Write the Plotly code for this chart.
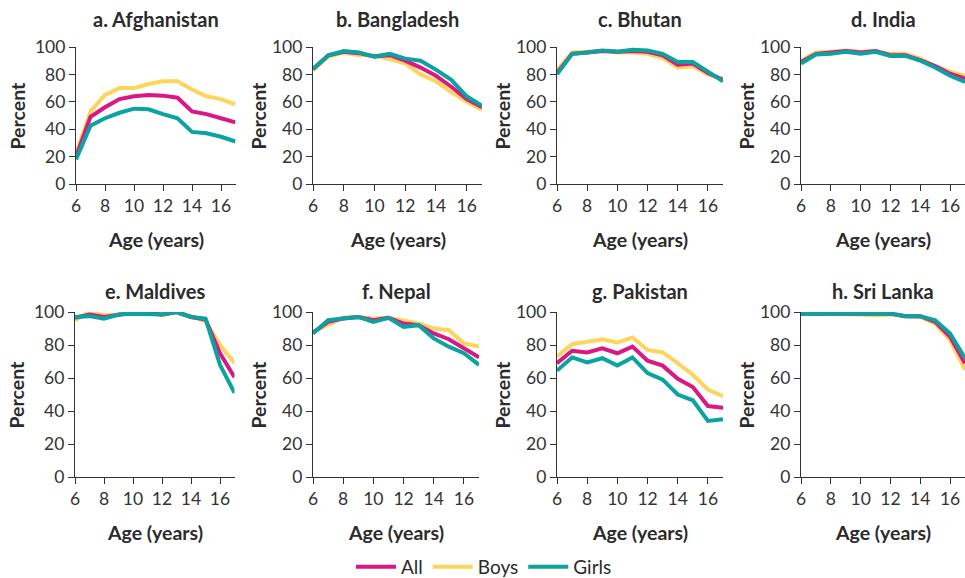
import plotly.graph_objects as go

ages = [6, 7, 8, 9, 10, 11, 12, 13, 14, 15, 16, 17]
countries = ["a. Afghanistan", "b. Bangladesh", "c. Bhutan", "d. India",
             "e. Maldives", "f. Nepal", "g. Pakistan", "h. Sri Lanka"]

afg_all = [20, 49, 56, 62, 64, 65, 64.5, 63, 53, 51, 48, 45]
afg_boys = [22, 53, 65, 70, 70, 73, 75, 75, 69, 64, 62, 58]
afg_girls = [18, 42.5, 48, 52, 55, 54.5, 51, 48, 38, 37, 34.5, 31]

bgd_all = [84, 94, 96.5, 95.5, 93, 94, 90, 85, 79, 71, 62, 56]
bgd_boys = [83, 93, 96, 94, 94, 91, 88, 80, 75, 67, 60, 54]
bgd_girls = [84, 94, 97, 96, 93, 95, 91.5, 90, 83.5, 76, 64, 57]

btn_all = [81, 95, 96, 97, 96.5, 97, 96.5, 94, 87, 88, 81, 76]
btn_boys = [83, 96, 96.5, 97, 96, 96, 95, 92, 85, 86, 80, 77]
btn_girls = [80, 95, 96, 97.5, 96.5, 98, 97.5, 95, 89, 89, 82, 75]

ind_all = [89, 95, 96, 97, 96, 97, 94, 94, 90.5, 86, 80.5, 77]
ind_boys = [90, 96, 96.5, 97.5, 96.5, 97, 95, 95, 91.5, 86, 82, 79]
ind_girls = [88, 94.5, 95, 96.5, 95, 96.5, 93.5, 93.5, 90, 85, 79, 74.5]

mdv_all = [96.5, 98.5, 97, 98.5, 99.5, 99.5, 98.5, 100, 97, 95.5, 75, 60.5]
mdv_boys = [95, 100, 98, 98.5, 100, 100, 98, 100, 97.5, 94.5, 80, 69]
mdv_girls = [97, 97.5, 96, 98.5, 99, 99, 98.5, 100, 97, 96, 68, 51]

npl_all = [87.5, 94, 96, 97, 95, 96.5, 93, 92, 87, 83.5, 78, 72.5]
npl_boys = [88, 92, 96.5, 97, 96, 96.5, 94.5, 93, 90, 89, 81, 79]
npl_girls = [87, 95, 96, 97, 94, 96.5, 91, 92, 84, 79, 75, 68]

pak_all = [69, 76.5, 75.5, 78, 75, 79, 70.5, 67.5, 59.5, 54.5, 43, 42]
pak_boys = [73, 80.5, 82, 83.5, 81.5, 84.5, 77, 75.5, 69, 62, 53, 49]
pak_girls = [64.5, 72.5, 69.5, 72, 67.5, 72.5, 63, 59, 50, 46.5, 34, 35]

lka_all = [99, 99, 98.5, 98.5, 98.5, 98.5, 99, 97.5, 97.5, 94, 85, 69]
lka_boys = [99, 99, 99, 98.5, 98.5, 98, 98.5, 97.5, 97, 93, 83, 65]
lka_girls = [99, 99, 98.5, 98.5, 98.5, 98.5, 99, 97.5, 97.5, 95, 87, 72]

all_series = [afg_all, bgd_all, btn_all, ind_all, mdv_all, npl_all, pak_all, lka_all]
boys_series = [afg_boys, bgd_boys, btn_boys, ind_boys, mdv_boys, npl_boys, pak_boys, lka_boys]
girls_series = [afg_girls, bgd_girls, btn_girls, ind_girls, mdv_girls, npl_girls, pak_girls, lka_girls]

x_ticks = [6, 8, 10, 12, 14, 16]
y_ticks = [0, 20, 40, 60, 80, 100]

C_ALL = "#DA1884"
C_BOYS = "#FDD55C"
C_GIRLS = "#0BA2A2"

W, H = 965, 578
FONT = "Lato"
TXT = "#2b2b2b"

# pixel layout of each panel: (x_left, x_right, y_top, y_bottom)
panels_px = [
    (76, 235.5, 47, 184), (313, 482, 47, 184), (557, 723, 47, 184), (801, 965, 47, 184),
    (75, 234.5, 312, 477), (313, 479, 312, 477), (557, 723, 312, 477), (801, 965, 312, 477),
]

fig = go.Figure()
layout = dict(
    width=W, height=H,
    margin=dict(l=0, r=0, t=0, b=0, autoexpand=False),
    paper_bgcolor="white", plot_bgcolor="white",
    font=dict(family=FONT, color=TXT),
    showlegend=True,
    legend=dict(orientation="h", x=484 / W, xanchor="center", y=1 - 567 / H, yanchor="middle",
                font=dict(size=19, family=FONT, color=TXT), itemwidth=40,
                traceorder="normal"),
)
annotations = []

for i, (name, (xl, xr, yt, yb)) in enumerate(zip(countries, panels_px)):
    k = "" if i == 0 else str(i + 1)
    xa, ya = "x" + k, "y" + k
    layout["xaxis" + k] = dict(
        domain=[xl / W, xr / W], anchor=ya, range=[6, 17],
        tickvals=x_ticks, ticks="outside", ticklen=6, tickwidth=1.3, tickcolor="#333",
        showline=True, linecolor="#333", linewidth=1.3, showgrid=False, zeroline=False,
        tickfont=dict(size=17.5, family=FONT, color="#333"),
    )
    layout["yaxis" + k] = dict(
        domain=[1 - yb / H, 1 - yt / H], anchor=xa, range=[0, 100],
        tickvals=y_ticks, ticks="outside", ticklen=6, tickwidth=1.3, tickcolor="#333",
        showline=True, linecolor="#333", linewidth=1.3, showgrid=False, zeroline=False,
        tickfont=dict(size=17.5, family=FONT, color="#333"),
    )
    for label, series, color, rank in [("Boys", boys_series, C_BOYS, 2),
                                       ("All", all_series, C_ALL, 1),
                                       ("Girls", girls_series, C_GIRLS, 3)]:
        fig.add_trace(go.Scatter(
            x=ages, y=series[i], mode="lines", name=label,
            line=dict(color=color, width=4), xaxis=xa, yaxis=ya,
            showlegend=(i == 0), legendgroup=label, legendrank=rank,
            cliponaxis=False,
        ))
    cx = (xl + xr) / 2 / W
    top_row = i < 4
    t_off = 28 if top_row else 21
    p_off = 59 if i % 4 == 0 else 55
    annotations.append(dict(text="<b>" + name + "</b>", x=cx, y=1 - (yt - t_off) / H,
                            xref="paper", yref="paper", showarrow=False,
                            xanchor="center", yanchor="middle",
                            font=dict(size=20, family=FONT, color=TXT)))
    annotations.append(dict(text="<b>Age (years)</b>", x=cx, y=1 - (yb + 55) / H,
                            xref="paper", yref="paper", showarrow=False,
                            xanchor="center", yanchor="middle",
                            font=dict(size=19.5, family=FONT, color=TXT)))
    annotations.append(dict(text="<b>Percent</b>", x=(xl - p_off) / W, y=1 - (yt + yb) / 2 / H,
                            xref="paper", yref="paper", showarrow=False, textangle=-90,
                            xanchor="center", yanchor="middle",
                            font=dict(size=19.5, family=FONT, color=TXT)))

layout["annotations"] = annotations
fig.update_layout(**layout)
fig.write_html("out.html", config={"displayModeBar": False},
               post_script="document.body.style.margin='0';")
